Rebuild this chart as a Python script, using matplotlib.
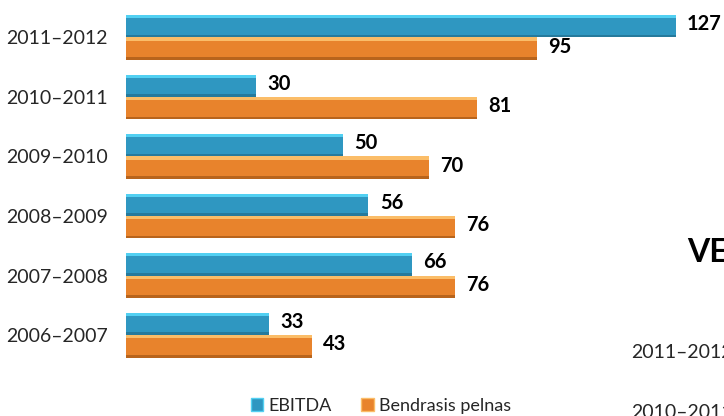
import matplotlib
matplotlib.use("Agg")
import matplotlib.pyplot as plt
from matplotlib.patches import Patch

plt.rcParams["font.family"] = ["Lato", "DejaVu Sans"]

periods = ["2011–2012", "2010–2011", "2009–2010", "2008–2009", "2007–2008", "2006–2007"]
ebitda = [127, 30, 50, 56, 66, 33]
gross_profit = [95, 81, 70, 76, 76, 43]
series_names = ["EBITDA", "Bendrasis pelnas"]

W, H = 724, 416
fig = plt.figure(figsize=(W / 100, H / 100), dpi=100)
ax = fig.add_axes([126 / W, 0, (W - 126) / W, 1])

h = 0.378
ypos = list(range(len(periods)))


def bevel_bars(y, vals, main, light, dark):
    ax.barh(y, vals, height=h, color=main, linewidth=0)
    # top highlight and bottom shade for the bevel look
    ax.barh([v - h / 2 + h * 0.07 for v in y], vals, height=h * 0.14, color=light, linewidth=0)
    ax.barh([v + h / 2 - h * 0.06 for v in y], vals, height=h * 0.12, color=dark, linewidth=0)


y_blue = [y - h / 2 for y in ypos]
y_orange = [y + h / 2 for y in ypos]
bevel_bars(y_blue, ebitda, "#2f97c1", "#52d0f2", "#267a9c")
bevel_bars(y_orange, gross_profit, "#e8832c", "#fbbd68", "#b8641c")

for y, v in zip(y_blue, ebitda):
    ax.text(v + 2.6, y - 0.03, str(v), va="center", ha="left", fontsize=14.5, fontweight="bold", color="black")
for y, v in zip(y_orange, gross_profit):
    ax.text(v + 2.6, y - 0.03, str(v), va="center", ha="left", fontsize=14.5, fontweight="bold", color="black")

ax.set_xlim(0, (W - 126) / 4.33)
ax.set_ylim(6.361, -0.630)
ax.set_yticks(ypos)
ax.set_yticklabels(periods, fontsize=14, color="#262626")
ax.tick_params(axis="y", length=0, pad=13)
ax.set_xticks([])
for s in ax.spines.values():
    s.set_visible(False)

handles = [Patch(facecolor="#2f97c1", edgecolor="#52d0f2"),
           Patch(facecolor="#e8832c", edgecolor="#fbbd68")]
fig.legend(handles, series_names, loc="center", bbox_to_anchor=(381 / W, 1 - 406 / H),
           ncol=2, frameon=False, fontsize=13, handlelength=0.7, handleheight=0.7,
           handletextpad=0.3, columnspacing=1.6, labelcolor="#262626")

# pieces of the neighbouring chart cut off at the right edge
fig.text(687 / W, 1 - 253 / H, "VE", fontsize=23, fontweight="bold", va="center", ha="left")
fig.text(631 / W, 1 - 352 / H, "2011–2012", fontsize=14, color="#262626", va="center", ha="left")
fig.text(631 / W, 1 - 412 / H, "2010–2011", fontsize=14, color="#262626", va="center", ha="left")

fig.savefig("out.png", dpi=100)
